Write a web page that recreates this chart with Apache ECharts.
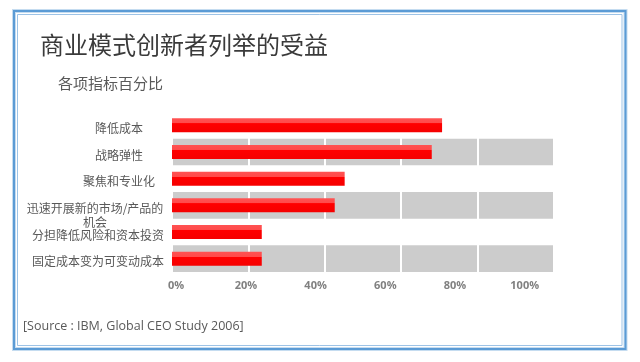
<!DOCTYPE html>
<html>
<head>
<meta charset="utf-8">
<script src="https://cdn.jsdelivr.net/npm/echarts@6/dist/echarts.min.js"></script>
<style>
  html, body { margin: 0; padding: 0; background: #ffffff; }
  #chart { width: 640px; height: 362px; }
</style>
</head>
<body>
<div id="chart"></div>
<script>
// ---- data ----
const titleText = '商业模式创新者列举的受益';
const subtitleText = '各项指标百分比';
const sourceText = '[Source : IBM, Global CEO Study 2006]';
const categories = ['降低成本', '战略弹性', '聚焦和专业化', '迅速开展新的市场/产品的机会', '分担降低风险和资本投资', '固定成本变为可变动成本'];
const values = [70.7, 68.0, 45.2, 42.6, 23.5, 23.5];
const tickValues = [0, 20, 40, 60, 80, 100];

// ---- helpers ----
const LABEL_FONT = '"Noto Sans CJK SC", "Noto Sans", sans-serif';
const measureCtx = document.createElement('canvas').getContext('2d');
measureCtx.font = '12px ' + LABEL_FONT;
function textWidth(s) { return measureCtx.measureText(s).width; }
function wrapLabel(s, maxW) {
  const lines = [];
  let cur = '';
  for (const ch of s) {
    if (cur && textWidth(cur + ch) > maxW) { lines.push(cur); cur = ch; }
    else cur += ch;
  }
  if (cur) lines.push(cur);
  return lines;
}

const chart = echarts.init(document.getElementById('chart'), null, { renderer: 'canvas' });

const option = {
  animation: false,
  backgroundColor: '#ffffff',
  graphic: [
    { type: 'rect', z: 0, shape: { x: 14, y: 11, width: 611.5, height: 338 }, style: { fill: 'none', stroke: '#c5dcf0', lineWidth: 4 } },
    { type: 'rect', z: 1, shape: { x: 14, y: 11, width: 611.5, height: 338 }, style: { fill: 'none', stroke: '#5b9bd5', lineWidth: 2 } },
    { type: 'rect', z: 1, shape: { x: 17.5, y: 14.5, width: 604.5, height: 331 }, style: { fill: 'none', stroke: '#9dc3e6', lineWidth: 1 } },
    { type: 'text', x: 40, y: 45, style: { text: titleText, font: '24px "Noto Sans CJK SC", sans-serif', fill: '#3a3a3a', verticalAlign: 'middle' } },
    { type: 'text', x: 58, y: 83, style: { text: subtitleText, font: '15px "Noto Sans CJK SC", sans-serif', fill: '#595959', verticalAlign: 'middle' } },
    { type: 'text', x: 23, y: 326, style: { text: sourceText, font: '12.5px "Open Sans", sans-serif', fill: '#595959', verticalAlign: 'middle' } }
  ],
  grid: { left: 172, right: 86, top: 112, bottom: 90, containLabel: false },
  xAxis: [
    {
      type: 'value', min: 0, max: 100, interval: 20, z: 1,
      axisLine: { show: false }, axisTick: { show: false }, axisLabel: { show: false },
      splitLine: { show: true, lineStyle: { color: '#ffffff', width: 2 } }
    },
    {
      type: 'value', position: 'bottom', min: -1.2, max: 108.4,
      axisLine: { show: false }, axisTick: { show: false }, splitLine: { show: false },
      axisLabel: {
        customValues: tickValues,
        formatter: '{value}%',
        margin: 8,
        fontSize: 11, fontWeight: 'bold', color: '#808080', fontFamily: '"Open Sans", "Noto Sans", sans-serif'
      }
    }
  ],
  yAxis: {
    type: 'category', inverse: true, data: categories, z: 0,
    axisLine: { show: false }, axisTick: { show: false }, splitLine: { show: false },
    splitArea: { show: true, areaStyle: { color: ['rgba(0,0,0,0)', '#cccccc'] } },
    axisLabel: {
      margin: 8,
      align: 'right',
      verticalAlign: 'top',
      padding: [-4, 0, 0, 0],
      formatter: function (v) {
        const lines = wrapLabel(v, 138);
        if (lines.length > 1) return lines.map(l => '{m|' + l + '}').join('\n');
        return textWidth(v) <= 90 ? '{c|' + v + '}' : '{r|' + v + '}';
      },
      rich: {
        c: { width: 90, align: 'center', fontSize: 12, lineHeight: 14, color: '#595959', fontFamily: LABEL_FONT },
        m: { width: 138, align: 'center', fontSize: 12, lineHeight: 14, color: '#595959', fontFamily: LABEL_FONT },
        r: { align: 'right', fontSize: 12, lineHeight: 14, color: '#595959', fontFamily: LABEL_FONT }
      }
    }
  },
  series: [{
    type: 'bar', xAxisIndex: 0, data: values, barWidth: 14, z: 3,
    itemStyle: {
      color: new echarts.graphic.LinearGradient(0, 0, 0, 1, [
        { offset: 0, color: '#ff5252' },
        { offset: 0.36, color: '#ff4a4a' },
        { offset: 0.37, color: '#ff0000' },
        { offset: 1, color: '#f50000' }
      ])
    }
  }]
};
chart.setOption(option);
</script>
</body>
</html>
